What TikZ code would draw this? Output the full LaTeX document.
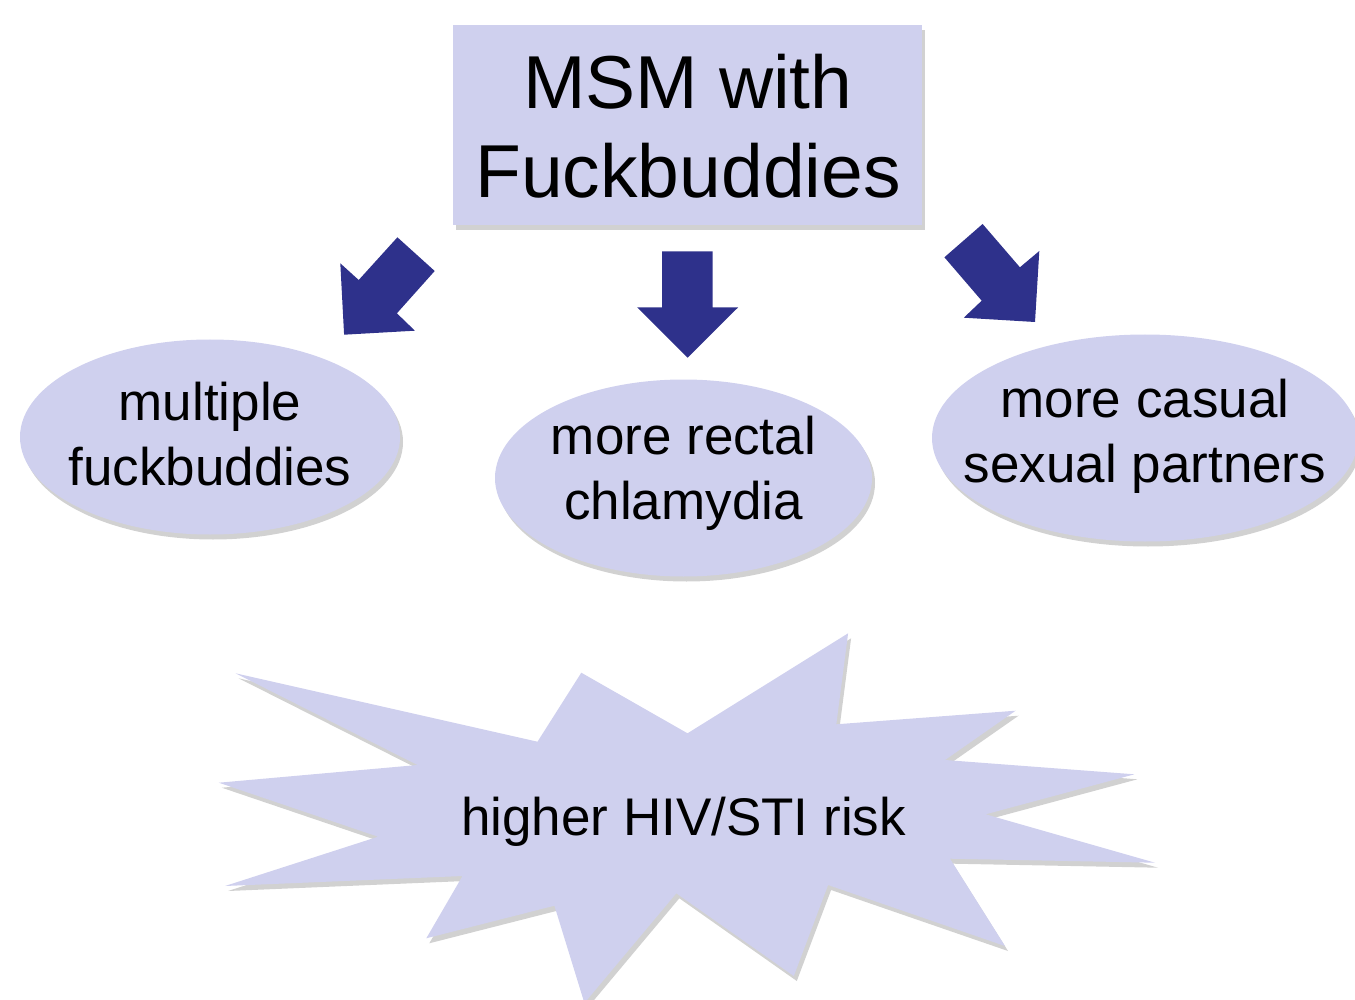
\documentclass[tikz,border=0pt]{standalone}
\usepackage{fontspec}
\setmainfont{Liberation Sans}
\usetikzlibrary{shapes.geometric,shadows}
\definecolor{lav}{RGB}{207,208,238}
\definecolor{navy}{RGB}{46,49,139}
\begin{document}
\begin{tikzpicture}[x=1pt,y=-1pt,
  shade/.style={drop shadow={shadow xshift=3pt,shadow yshift=-5pt,opacity=0.18,fill=black}},
  lavbox/.style={fill=lav,draw=none,shade},
  blockarrow/.style={fill=navy,draw=none},
  bigtxt/.style={font=\fontsize{75}{89}\selectfont,align=center,inner sep=0pt},
  midtxt/.style={font=\fontsize{53}{65}\selectfont,align=center,inner sep=0pt}]
\useasboundingbox (0,0) rectangle (1355,1000);
\clip (0,0) rectangle (1355,1000);
% top box
\node[lavbox,rectangle,minimum width=469pt,minimum height=200pt,inner sep=0pt] (top) at (687.5,125) {};
\node[bigtxt] (toptxt) at (688,126) {MSM with\\Fuckbuddies};
% ellipses
\node[lavbox,ellipse,minimum width=380pt,minimum height=195pt,inner sep=0pt] (left) at (210,437) {};
\node[midtxt] (lefttxt) at (210,434) {multiple\\fuckbuddies};
\node[lavbox,ellipse,minimum width=377pt,minimum height=197pt,inner sep=0pt] (mid) at (683.5,478) {};
\node[midtxt] (midtxt) at (683.5,473) {more rectal\\chlamydia};
\node[lavbox,ellipse,minimum width=426pt,minimum height=207pt,inner sep=0pt] (right) at (1145,438) {};
\node[midtxt] (righttxt) at (1145,436) {more casual\\sexual partners};
% block arrows
\fill[blockarrow] (340.3,263.3) -- (358.7,280) -- (397.4,237.3) -- (434.7,271) -- (396.9,313.3) -- (414.9,330.7) -- (344.1,334.7) -- cycle;
\fill[blockarrow] (662.2,251.3) -- (712.7,251.3) -- (712.7,307.3) -- (738.2,307.3) -- (687.6,357.7) -- (637.1,307.3) -- (662.2,307.3) -- cycle;
\fill[blockarrow] (982.6,224) -- (1019.9,267.3) -- (1039.3,251) -- (1035,322) -- (963.8,317.7) -- (981.7,300.7) -- (944.4,257.3) -- cycle;
% starburst
\path[lavbox] (235.6,673.3) -- (537.5,741.7) -- (581.3,672.7) -- (687.5,733.3) -- (848.1,633.3) -- (836.3,724.3) -- (1015.6,710.7) -- (945,760) -- (1134.4,774.3) -- (985.6,814.3) -- (1155,862.7) -- (950,858.7) -- (1005,946) -- (828.1,885) -- (793.8,976) -- (676.3,893.3) -- (584.4,1003) -- (554.4,905.7) -- (426.3,938.3) -- (462.5,876) -- (225,886) -- (378.1,836.7) -- (218.8,782.7) -- (417.5,765) -- cycle;
\node[midtxt] (risk) at (683.5,822) {higher HIV/STI risk};
\end{tikzpicture}
\end{document}
